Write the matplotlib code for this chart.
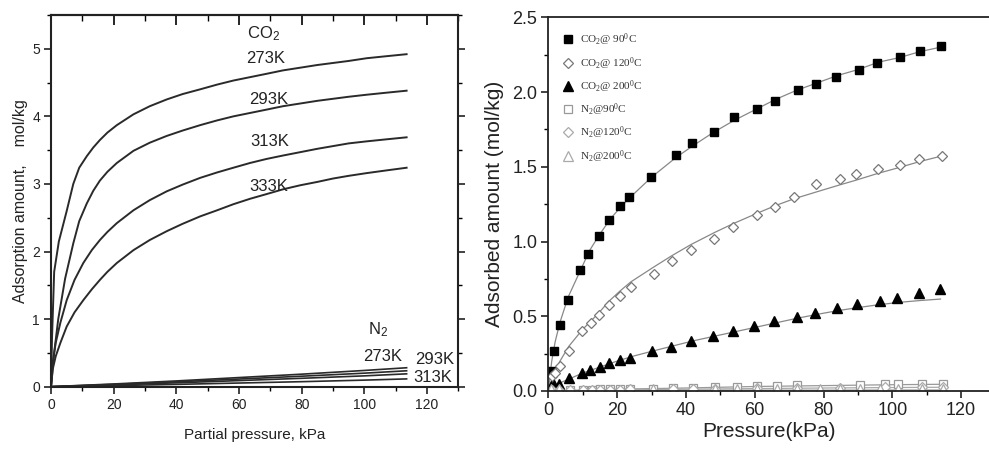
import matplotlib
matplotlib.use("Agg")
import matplotlib.pyplot as plt
from matplotlib.ticker import MultipleLocator

plt.rcParams['font.family'] = ['Liberation Sans', 'DejaVu Sans']
plt.rcParams['mathtext.default'] = 'regular'

# ---------------- Left panel data ----------------
co2_273_x = [0, 0.3, 1.0, 2.5, 5, 7.1, 9, 11.4, 13.5, 15.6, 18, 21, 26.3, 31.5, 36.9, 42, 47.6, 53, 58.2, 63.5, 68.8, 74, 79.5, 85, 90, 95, 100.7, 107, 113.5]
co2_273_y = [0, 0.7, 1.7, 2.15, 2.6, 3.0, 3.24, 3.41, 3.54, 3.65, 3.76, 3.87, 4.03, 4.15, 4.25, 4.33, 4.40, 4.47, 4.53, 4.58, 4.63, 4.68, 4.72, 4.76, 4.79, 4.82, 4.86, 4.89, 4.92]
co2_293_x = [0, 1.0, 2.3, 4.5, 7.1, 9, 11.4, 13.5, 15.6, 18, 21, 26.3, 31.5, 36.9, 42, 47.6, 53, 58.2, 63.5, 68.8, 74, 79.5, 85, 90, 95, 100.7, 107, 113.5]
co2_293_y = [0, 0.5, 1.0, 1.6, 2.12, 2.45, 2.71, 2.9, 3.05, 3.18, 3.31, 3.49, 3.61, 3.71, 3.79, 3.87, 3.94, 4.0, 4.05, 4.10, 4.15, 4.19, 4.23, 4.26, 4.29, 4.32, 4.35, 4.38]
co2_313_x = [0, 0.5, 1.5, 3, 5, 7.5, 10.3, 13, 15.6, 18, 21, 26.3, 31.5, 36.9, 42, 47.6, 53, 58.2, 63.5, 68.8, 74, 79.5, 85, 90, 95, 100.7, 107, 113.5]
co2_313_y = [0, 0.35, 0.65, 0.95, 1.28, 1.58, 1.83, 2.02, 2.17, 2.29, 2.42, 2.61, 2.76, 2.89, 2.99, 3.09, 3.17, 3.24, 3.31, 3.37, 3.42, 3.47, 3.52, 3.56, 3.60, 3.63, 3.66, 3.69]
co2_333_x = [0, 0.5, 1.5, 3, 5, 7.5, 10.3, 13, 15.6, 18, 21, 26.3, 31.5, 36.9, 42, 47.6, 53, 58.2, 63.5, 68.8, 74, 79.5, 85, 90, 95, 100.7, 107, 113.5]
co2_333_y = [0, 0.25, 0.45, 0.65, 0.89, 1.1, 1.28, 1.44, 1.58, 1.70, 1.83, 2.02, 2.17, 2.30, 2.41, 2.52, 2.61, 2.70, 2.78, 2.85, 2.92, 2.98, 3.03, 3.08, 3.12, 3.16, 3.20, 3.24]
n2_x = [0, 20, 40, 60, 80, 100, 113.5]
n2_273_y = [0, 0.04, 0.085, 0.135, 0.185, 0.24, 0.28]
n2_293_y = [0, 0.034, 0.072, 0.113, 0.155, 0.2, 0.235]
n2_313_y = [0, 0.027, 0.057, 0.09, 0.124, 0.16, 0.19]
n2_333_y = [0, 0.016, 0.034, 0.054, 0.074, 0.097, 0.115]

left_labels = ["CO$_2$", "273K", "293K", "313K", "333K", "N$_2$", "273K", "293K", "313K"]
left_label_x = [67.8, 68.5, 69.4, 69.9, 69.4, 104.5, 105.9, 122.6, 122.0]
left_label_y = [5.23, 4.85, 4.25, 3.63, 2.96, 0.84, 0.45, 0.40, 0.13]

# ---------------- Right panel data ----------------
c90_x = [0.8, 1.6, 3.4, 5.8, 9.2, 11.4, 14.7, 17.5, 20.8, 23.6, 29.8, 37, 41.9, 48.2, 54.1, 60.6, 65.8, 72.7, 77.9, 83.6, 90.2, 95.4, 102.3, 108, 114.1]
c90_y = [0.136, 0.265, 0.44, 0.61, 0.81, 0.914, 1.04, 1.144, 1.235, 1.296, 1.434, 1.577, 1.657, 1.73, 1.83, 1.887, 1.942, 2.014, 2.054, 2.1, 2.148, 2.197, 2.232, 2.277, 2.308]
c120_x = [1.0, 2.0, 3.4, 6.0, 9.9, 12.4, 14.6, 17.6, 20.9, 23.9, 30.7, 35.9, 41.5, 48.3, 53.8, 60.8, 65.9, 71.3, 77.7, 84.9, 89.4, 95.7, 102.1, 107.7, 114.5]
c120_y = [0.1, 0.12, 0.167, 0.268, 0.404, 0.457, 0.508, 0.578, 0.638, 0.694, 0.78, 0.87, 0.943, 1.02, 1.097, 1.178, 1.233, 1.296, 1.383, 1.42, 1.452, 1.485, 1.51, 1.55, 1.575]
c200_x = [0.8, 1.8, 3.0, 5.9, 9.7, 12.2, 15.0, 17.7, 20.8, 23.7, 30.0, 35.6, 41.6, 47.8, 53.6, 59.7, 65.6, 72.3, 77.6, 83.8, 89.6, 96.3, 101.5, 107.7, 114.0]
c200_y = [0.033, 0.04, 0.05, 0.085, 0.118, 0.14, 0.163, 0.185, 0.207, 0.223, 0.268, 0.297, 0.337, 0.37, 0.401, 0.435, 0.468, 0.497, 0.524, 0.553, 0.582, 0.604, 0.624, 0.658, 0.685]
n90_x = [6.3, 10.2, 12.6, 15.0, 17.9, 20.8, 23.8, 30.5, 36.3, 42.2, 48.5, 54.8, 60.6, 66.4, 72.2, 90.6, 97.9, 101.7, 108.5, 114.8]
n90_y = [0.006, 0.008, 0.009, 0.01, 0.011, 0.012, 0.013, 0.016, 0.018, 0.022, 0.025, 0.028, 0.031, 0.034, 0.037, 0.042, 0.045, 0.046, 0.047, 0.048]
n120_x = [1.0, 3.0, 6.3, 10.2, 12.6, 15.0, 17.9, 20.8, 23.8, 36.3, 42.2, 48.5, 60.6, 72.2, 84.8, 97.9, 108.5, 114.8]
n120_y = [0.004, 0.005, 0.005, 0.006, 0.007, 0.007, 0.008, 0.009, 0.01, 0.012, 0.013, 0.015, 0.017, 0.02, 0.022, 0.024, 0.025, 0.026]
n200_x = [0.8, 3.0, 30.5, 48.5, 54.8, 60.6, 66.4, 72.2, 79.0, 84.8, 90.6, 96.3, 101.7, 108.5, 114.8]
n200_y = [0.01, 0.012, 0.01, 0.012, 0.012, 0.011, 0.012, 0.012, 0.011, 0.012, 0.013, 0.012, 0.012, 0.012, 0.013]

fit90_x = [0, 1, 2, 3.4, 5.8, 9.2, 12, 15, 18, 21, 24, 30, 37, 42, 48, 54, 60, 66, 72, 78, 84, 90, 96, 102, 108, 114]
fit90_y = [0, 0.2, 0.33, 0.46, 0.63, 0.8, 0.94, 1.05, 1.15, 1.23, 1.3, 1.43, 1.56, 1.64, 1.73, 1.81, 1.88, 1.95, 2.01, 2.06, 2.11, 2.15, 2.2, 2.23, 2.27, 2.3]
fit120_x = [0, 1, 2, 3.4, 6, 9.9, 14.6, 17.6, 20.9, 24, 30.7, 35.9, 41.5, 48.3, 53.8, 60.8, 66, 71.3, 77.7, 84.9, 89.4, 95.7, 102, 108, 114]
fit120_y = [0, 0.07, 0.13, 0.2, 0.3, 0.41, 0.52, 0.6, 0.67, 0.73, 0.83, 0.905, 0.98, 1.06, 1.12, 1.19, 1.24, 1.285, 1.33, 1.38, 1.41, 1.455, 1.495, 1.535, 1.57]
fit200_x = [0, 1, 3, 6, 10, 15, 20, 25, 30, 36, 42, 48, 54, 60, 66, 72, 78, 84, 90, 96, 102, 108, 114]
fit200_y = [0, 0.025, 0.05, 0.08, 0.12, 0.16, 0.2, 0.235, 0.265, 0.3, 0.335, 0.365, 0.395, 0.425, 0.455, 0.485, 0.512, 0.537, 0.558, 0.577, 0.593, 0.605, 0.615]
fitn_x = [0, 20, 40, 60, 80, 100, 115]
fitn90_y = [0, 0.012, 0.02, 0.03, 0.036, 0.042, 0.045]
fitn120_y = [0, 0.008, 0.012, 0.016, 0.02, 0.023, 0.025]
fitn200_y = [0, 0.004, 0.005, 0.006, 0.006, 0.007, 0.007]

legend_labels = ["CO$_2$@ 90$^0$C", "CO$_2$@ 120$^0$C", "CO$_2$@ 200$^0$C",
                 "N$_2$@90$^0$C", "N$_2$@120$^0$C", "N$_2$@200$^0$C"]

fig = plt.figure(figsize=(9.89, 4.49), dpi=100)

# ---------------- Left panel ----------------
ax1 = fig.add_axes([0.0516, 0.1388, 0.4118, 0.8278])
lc = '#2a2a2a'
for xs, ys in [(co2_273_x, co2_273_y), (co2_293_x, co2_293_y), (co2_313_x, co2_313_y), (co2_333_x, co2_333_y)]:
    ax1.plot(xs, ys, color=lc, lw=1.4)
for ys in [n2_273_y, n2_293_y, n2_313_y, n2_333_y]:
    ax1.plot(n2_x, ys, color=lc, lw=1.2)
ax1.set_xlim(0, 130)
ax1.set_ylim(0, 5.5)
ax1.xaxis.set_major_locator(MultipleLocator(20))
ax1.xaxis.set_minor_locator(MultipleLocator(10))
ax1.yaxis.set_major_locator(MultipleLocator(1))
ax1.yaxis.set_minor_locator(MultipleLocator(0.5))
ax1.tick_params(axis='both', which='major', direction='out', length=5, width=1.2, labelsize=10, colors='#222222', pad=3)
ax1.tick_params(axis='both', which='minor', direction='out', length=3, width=1.0)
ax1.tick_params(axis='y', which='both', right=True)
for s in ax1.spines.values():
    s.set_linewidth(1.5)
    s.set_color('#222222')
top1 = ax1.secondary_xaxis('top')
top1.xaxis.set_major_locator(MultipleLocator(20))
top1.xaxis.set_minor_locator(MultipleLocator(10))
top1.tick_params(which='major', direction='in', length=7, width=1.2, labeltop=False)
top1.tick_params(which='minor', direction='in', length=4, width=1.0)
top1.spines['top'].set_linewidth(1.5)
ax1.set_xlabel("Partial pressure, kPa", fontsize=11, color='#222222', labelpad=12)
ax1.set_ylabel("Adsorption amount,    mol/kg", fontsize=11.5, color='#222222', labelpad=3)
for t, x, y in zip(left_labels, left_label_x, left_label_y):
    ax1.text(x, y, t, fontsize=12, ha='center', va='center', color='#222222')

# ---------------- Right panel ----------------
ax2 = fig.add_axes([0.5544, 0.1292, 0.4456, 0.8323])
gl = '#888888'
ax2.plot(fit90_x, fit90_y, color=gl, lw=0.9)
ax2.plot(fit120_x, fit120_y, color=gl, lw=0.9)
ax2.plot(fit200_x, fit200_y, color=gl, lw=0.9)
ax2.plot(fitn_x, fitn90_y, color='#999999', lw=0.9)
ax2.plot(fitn_x, fitn120_y, color='#aaaaaa', lw=0.9)
ax2.plot(fitn_x, fitn200_y, color='#aaaaaa', lw=0.9)
h1, = ax2.plot(c90_x, c90_y, 's', ms=5.5, color='black', ls='none')
h2, = ax2.plot(c120_x, c120_y, 'D', ms=5.0, mfc='white', mec='#777777', mew=0.9, ls='none')
h3, = ax2.plot(c200_x, c200_y, '^', ms=6.5, color='black', ls='none')
h4, = ax2.plot(n90_x, n90_y, 's', ms=5.5, mfc='white', mec='#999999', mew=0.9, ls='none')
h5, = ax2.plot(n120_x, n120_y, 'D', ms=5.0, mfc='white', mec='#aaaaaa', mew=0.9, ls='none')
h6, = ax2.plot(n200_x, n200_y, '^', ms=6.5, mfc='white', mec='#aaaaaa', mew=0.9, ls='none')
ax2.set_xlim(0, 128.1)
ax2.set_ylim(0, 2.5)
ax2.xaxis.set_major_locator(MultipleLocator(20))
ax2.xaxis.set_minor_locator(MultipleLocator(10))
ax2.yaxis.set_major_locator(MultipleLocator(0.5))
ax2.yaxis.set_minor_locator(MultipleLocator(0.25))
ax2.yaxis.set_major_formatter(matplotlib.ticker.FormatStrFormatter('%.1f'))
ax2.tick_params(axis='both', which='major', direction='out', length=5, width=1.2, labelsize=13, colors='#222222', pad=3)
ax2.tick_params(axis='both', which='minor', direction='out', length=3, width=1.0)
ax2.spines['right'].set_visible(False)
for s in ['left', 'bottom', 'top']:
    ax2.spines[s].set_linewidth(1.3)
    ax2.spines[s].set_color('#222222')
ax2.set_xlabel("Pressure(kPa)", fontsize=15, color='#222222', labelpad=2)
ax2.set_ylabel("Adsorbed amount (mol/kg)", fontsize=15, color='#222222', labelpad=6)
leg = ax2.legend([h1, h2, h3, h4, h5, h6], legend_labels, loc='upper left',
                 bbox_to_anchor=(0.01, 0.988), frameon=False, handlelength=1.0,
                 handletextpad=0.6, labelspacing=0.6,
                 prop={'family': 'Liberation Serif', 'size': 8})
for t in leg.get_texts():
    t.set_color('#333333')

fig.savefig("out.png", dpi=100)
